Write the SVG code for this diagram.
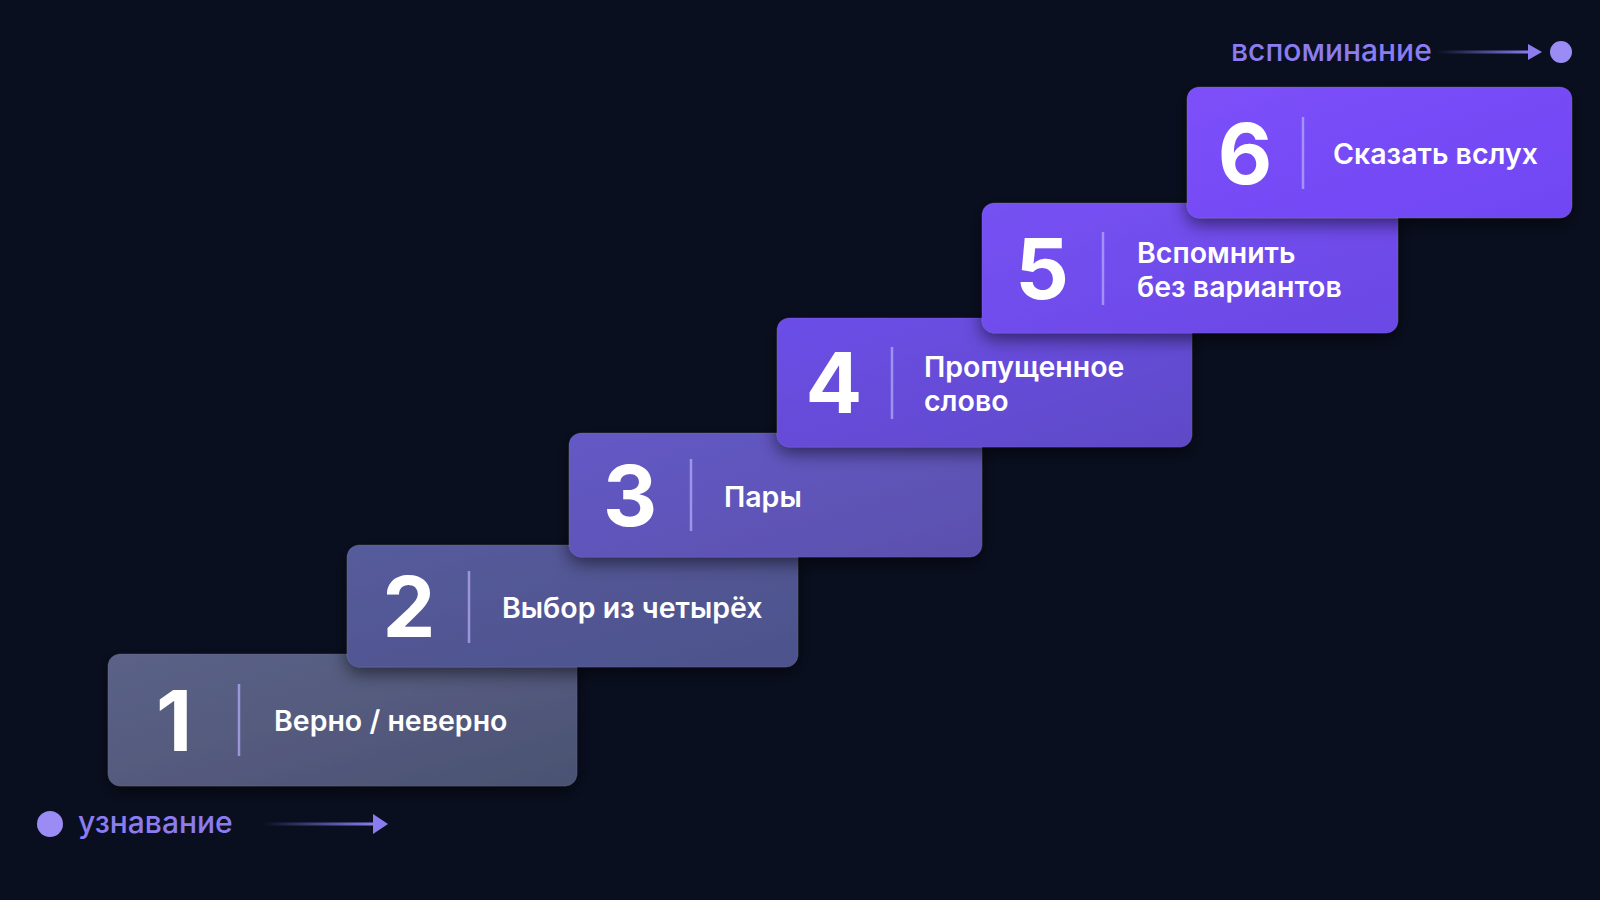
<svg xmlns="http://www.w3.org/2000/svg" width="1600" height="900" viewBox="0 0 1600 900">
<defs>
<style>
.card{stroke:rgba(255,255,255,0.06);stroke-width:1}
.num{font-family:Inter,"Noto Sans",sans-serif;font-weight:700;font-size:84px;fill:#ffffff;text-anchor:middle}
.lbl{font-family:Inter,"Noto Sans",sans-serif;font-weight:600;font-size:28.5px;fill:#ffffff}
.div{stroke:#b3aaf5;stroke-opacity:0.75;stroke-width:2.5}
.axis{font-family:Inter,"Noto Sans",sans-serif;font-weight:500;font-size:30px;fill:#8b7df0}
</style>
<filter id="sh" x="-20%" y="-30%" width="140%" height="170%">
<feDropShadow dx="0" dy="6" stdDeviation="9" flood-color="#000000" flood-opacity="0.55"/>
</filter>
<linearGradient id="g1" x1="0" y1="0" x2="1" y2="1"><stop offset="0" stop-color="#5b6287"/><stop offset="1" stop-color="#4b5273"/></linearGradient>
<linearGradient id="g2" x1="0" y1="0" x2="1" y2="1"><stop offset="0" stop-color="#565b9c"/><stop offset="1" stop-color="#4d528b"/></linearGradient>
<linearGradient id="g3" x1="0" y1="0" x2="1" y2="1"><stop offset="0" stop-color="#6459c6"/><stop offset="1" stop-color="#5a50ad"/></linearGradient>
<linearGradient id="g4" x1="0" y1="0" x2="1" y2="1"><stop offset="0" stop-color="#6c4ee8"/><stop offset="1" stop-color="#5e4ac6"/></linearGradient>
<linearGradient id="g5" x1="0" y1="0" x2="1" y2="1"><stop offset="0" stop-color="#7651f3"/><stop offset="1" stop-color="#6a48e4"/></linearGradient>
<linearGradient id="g6" x1="0" y1="0" x2="1" y2="1"><stop offset="0" stop-color="#7c50f9"/><stop offset="1" stop-color="#7046f3"/></linearGradient>
<linearGradient id="ab" x1="0" y1="0" x2="1" y2="0"><stop offset="0" stop-color="#8b7df0" stop-opacity="0"/><stop offset="1" stop-color="#8b7df0"/></linearGradient>
</defs>
<rect width="1600" height="900" fill="#0a0f20"/>

<g id="card1">
<rect class="card" x="108" y="654" width="469" height="132" rx="12" fill="url(#g1)" filter="url(#sh)"/>
<text class="num" x="174" y="751">1</text>
<line class="div" x1="239" y1="684" x2="239" y2="756"/>
<text class="lbl" x="274" y="731">Верно / неверно</text>
</g>

<g id="card2">
<rect class="card" x="347" y="545" width="451" height="122" rx="12" fill="url(#g2)" filter="url(#sh)"/>
<text class="num" x="409" y="637">2</text>
<line class="div" x1="469" y1="571" x2="469" y2="643"/>
<text class="lbl" x="502" y="618">Выбор из четырёх</text>
</g>

<g id="card3">
<rect class="card" x="569" y="433" width="413" height="124" rx="12" fill="url(#g3)" filter="url(#sh)"/>
<text class="num" x="630" y="526">3</text>
<line class="div" x1="691" y1="459" x2="691" y2="531"/>
<text class="lbl" x="724" y="507">Пары</text>
</g>

<g id="card4">
<rect class="card" x="777" y="318" width="415" height="129" rx="12" fill="url(#g4)" filter="url(#sh)"/>
<text class="num" x="834" y="413">4</text>
<line class="div" x1="892" y1="347" x2="892" y2="419"/>
<text class="lbl" x="924" y="377">Пропущенное</text>
<text class="lbl" x="924" y="411">слово</text>
</g>

<g id="card5">
<rect class="card" x="982" y="203" width="416" height="130" rx="12" fill="url(#g5)" filter="url(#sh)"/>
<text class="num" x="1042" y="299">5</text>
<line class="div" x1="1103" y1="232" x2="1103" y2="305"/>
<text class="lbl" x="1137" y="263">Вспомнить</text>
<text class="lbl" x="1137" y="297">без вариантов</text>
</g>

<g id="card6">
<rect class="card" x="1187" y="87" width="385" height="131" rx="12" fill="url(#g6)" filter="url(#sh)"/>
<text class="num" x="1245" y="184">6</text>
<line class="div" x1="1303" y1="117" x2="1303" y2="189"/>
<text class="lbl" x="1333" y="164">Сказать вслух</text>
</g>

<g id="axis-start">
<circle cx="50" cy="824" r="13" fill="#9a8bf5"/>
<text class="axis" x="78" y="833">узнавание</text>
</g>

<g id="axis-end">
<text class="axis" x="1231" y="61">вспоминание</text>
<circle cx="1561" cy="52" r="11" fill="#9a8bf5"/>
</g>

<g id="connectors">
<rect x="263" y="822.5" width="112" height="3" fill="url(#ab)"/>
<polygon points="373,814 388,824 373,834" fill="#8b7df0"/>
<rect x="1437" y="50.5" width="93" height="3" fill="url(#ab)"/>
<polygon points="1528,44 1542,52 1528,60" fill="#8b7df0"/>
</g>
</svg>
